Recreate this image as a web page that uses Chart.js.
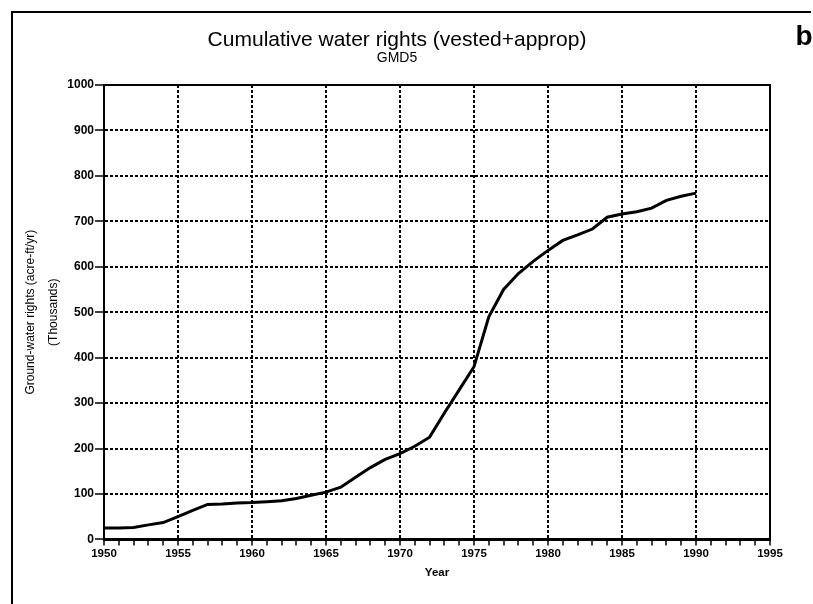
<!DOCTYPE html>
<html>
<head>
<meta charset="utf-8">
<script src="https://cdn.jsdelivr.net/npm/chart.js@4"></script>
<style>
  html, body { margin: 0; padding: 0; background: #fff; }
  #wrap { width: 813px; height: 604px; }
</style>
</head>
<body>
<div id="wrap"><canvas id="rightsChart"></canvas></div>
<script>
const years = [1950, 1951, 1952, 1953, 1954, 1955, 1956, 1957, 1958, 1959,
               1960, 1961, 1962, 1963, 1964, 1965, 1966, 1967, 1968, 1969,
               1970, 1971, 1972, 1973, 1974, 1975, 1976, 1977, 1978, 1979,
               1980, 1981, 1982, 1983, 1984, 1985, 1986, 1987, 1988, 1989, 1990];
const rights = [25, 25, 26, 32, 37, 50, 64, 77, 78, 80,
                81, 83, 85, 90, 97, 104, 115, 137, 158, 176,
                189, 205, 225, 278, 329, 380, 490, 550, 585, 612,
                636, 658, 670, 683, 709, 716, 721, 729, 746, 755, 762];
const titleLines = ['Cumulative water rights (vested+approp)', 'GMD5'];
const yTitle = ['Ground-water rights (acre-ft/yr)', '(Thousands)'];
const xTitle = 'Year';
const panelLetter = 'b';

const FONT = "'Liberation Sans', Arial, sans-serif";

// outer frame lines, top edge of the plot box and the panel letter
const decorations = {
    id: 'decorations',
    beforeDraw(chart) {
        const c = chart.ctx;
        c.save();
        c.strokeStyle = '#000';
        c.lineWidth = 2;
        c.beginPath();
        c.moveTo(12, 604);
        c.lineTo(12, 12);
        c.lineTo(811, 12);
        c.stroke();
        c.restore();
    },
    afterDraw(chart) {
        const c = chart.ctx;
        const a = chart.chartArea;
        c.save();
        c.strokeStyle = '#000';
        c.lineWidth = 2;
        c.beginPath();
        c.moveTo(a.left, a.top);
        c.lineTo(a.right, a.top);
        c.stroke();
        c.fillStyle = '#000';
        c.font = 'bold 28px ' + FONT;
        c.textAlign = 'center';
        c.textBaseline = 'middle';
        c.fillText(panelLetter, 804, 37);
        c.restore();
    }
};

const ctx = document.getElementById('rightsChart').getContext('2d');
new Chart(ctx, {
    type: 'line',
    data: {
        datasets: [{
            data: years.map((y, i) => ({ x: y, y: rights[i] })),
            borderColor: '#000',
            borderWidth: 3,
            pointRadius: 0,
            tension: 0,
            fill: false
        }]
    },
    options: {
        responsive: true,
        maintainAspectRatio: false,
        animation: false,
        layout: { padding: { left: 0, right: 19, top: 0, bottom: 24 } },
        plugins: {
            legend: { display: false },
            tooltip: { enabled: false },
            title: {
                display: true,
                text: titleLines[0],
                color: '#000',
                font: { family: FONT, size: 21, weight: 'normal', lineHeight: 1 },
                padding: { top: 30, bottom: 0 }
            },
            subtitle: {
                display: true,
                text: titleLines[1],
                color: '#000',
                font: { family: FONT, size: 14, weight: 'normal', lineHeight: 1 },
                padding: { top: 0, bottom: 20 }
            }
        },
        scales: {
            x: {
                type: 'linear',
                min: 1950,
                max: 1995,
                ticks: {
                    stepSize: 1,
                    autoSkip: false,
                    maxRotation: 0,
                    color: '#000',
                    padding: 2,
                    font: { family: FONT, size: 11.5, weight: 'bold' },
                    callback: v => (v % 5 === 0 ? String(v) : '')
                },
                grid: {
                    color: c => (c.tick && c.tick.value % 5 === 0 && c.tick.value !== 1950 && c.tick.value !== 1995) ? '#000' : 'rgba(0,0,0,0)',
                    lineWidth: 2,
                    tickColor: '#000',
                    tickLength: 6,
                    tickWidth: 1.5,
                    tickBorderDash: []
                },
                border: { display: true, color: '#000', width: 3, dash: [3, 2] },
                title: {
                    display: true,
                    text: xTitle,
                    color: '#000',
                    font: { family: FONT, size: 11.5, weight: 'bold' },
                    padding: { top: 3, bottom: 0 }
                }
            },
            y: {
                min: 0,
                max: 1000,
                afterFit: s => { s.width = 104; },
                ticks: {
                    stepSize: 100,
                    color: '#000',
                    padding: 1,
                    font: { family: FONT, size: 12, weight: 'bold' },
                    callback: v => String(v)
                },
                grid: {
                    color: c => (c.tick && c.tick.value > 0 && c.tick.value < 1000) ? '#000' : 'rgba(0,0,0,0)',
                    lineWidth: 2,
                    tickColor: '#000',
                    tickLength: 9,
                    tickWidth: 1.5,
                    tickBorderDash: []
                },
                border: { display: true, color: '#000', width: 2, dash: [3, 2] },
                title: {
                    display: true,
                    text: yTitle,
                    color: '#000',
                    font: { family: FONT, size: 12, weight: 'normal', lineHeight: 1.9 },
                    padding: { top: 19, bottom: 0 }
                }
            },
            y2: {
                position: 'right',
                min: 0,
                max: 1000,
                afterFit: s => { s.width = 24; },
                ticks: { display: false },
                grid: { drawOnChartArea: false, drawTicks: false },
                border: { display: true, color: '#000', width: 2 }
            }
        }
    },
    plugins: [decorations]
});
</script>
</body>
</html>
